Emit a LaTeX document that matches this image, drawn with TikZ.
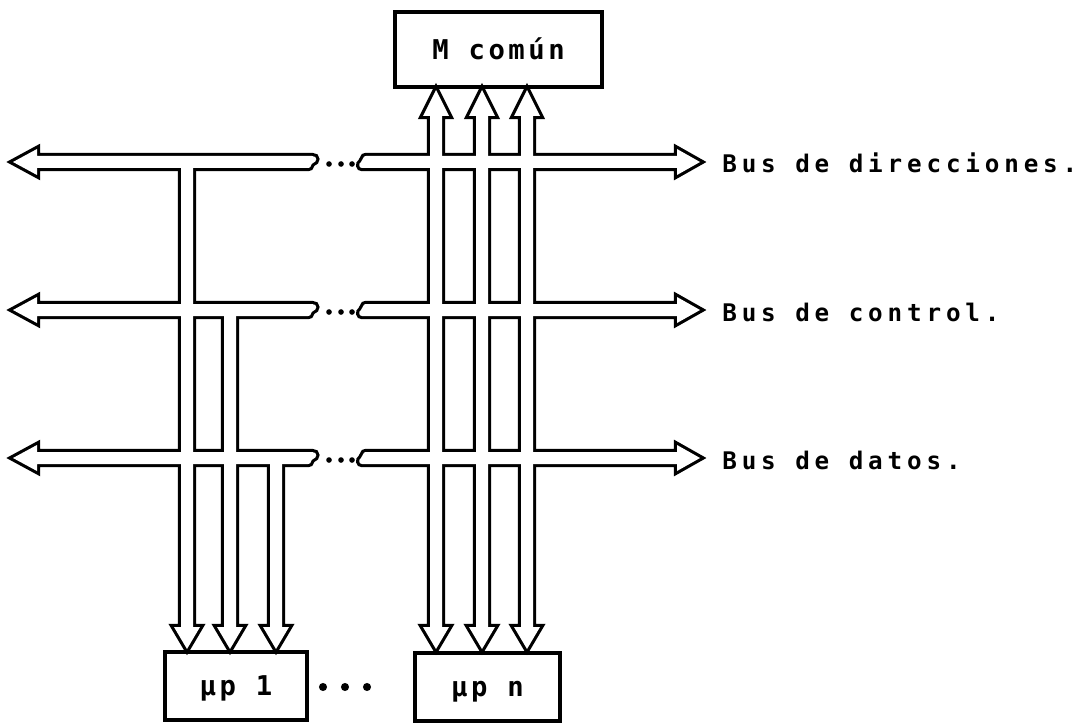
\documentclass[tikz,border=0pt]{standalone}
\usepackage{fontspec}
\newfontfamily\boxfont[LetterSpace=13]{DejaVu Sans Mono}
\newfontfamily\busfont[LetterSpace=20]{DejaVu Sans Mono}
\usetikzlibrary{positioning}

\tikzset{
	buswall/.style={draw=black, line width=3.6pt},
	busfill/.style={fill=white},
	unit/.style={draw, line width=1.8pt, inner sep=0pt, text height=11pt, text depth=0pt,
		font=\boxfont\bfseries\fontsize{15.5}{18}\selectfont},
	buslabel/.style={anchor=base west, inner sep=0pt,
		font=\busfont\bfseries\fontsize{13.8}{16}\selectfont}
}

\begin{document}
\begin{tikzpicture}[x=0.02cm, y=-0.02cm, line join=miter]
	\useasboundingbox (0,0) rectangle (1086,723);
	% black walls first, white inside after: the buses merge where they meet
	\foreach \st in {buswall, busfill} {
		\foreach \y in {162, 310, 458} {
			\path[\st] (13,\y) -- (37,\y-13) -- (37,\y-6) -- (312,\y-6)
				.. controls (318,\y-6) and (317,\y) .. (313,\y+1)
				.. controls (310,\y+2) and (312,\y+6) .. (308,\y+6)
				-- (37,\y+6) -- (37,\y+13) -- cycle;
			\path[\st] (366,\y-6) -- (677,\y-6) -- (677,\y-13) -- (700,\y)
				-- (677,\y+13) -- (677,\y+6) -- (362,\y+6)
				.. controls (359,\y+6) and (358,\y+2) .. (361,\y)
				.. controls (364,\y-2) and (362,\y-6) .. (366,\y-6) -- cycle;
		}
		\foreach \x/\y in {187/162, 230/310, 276/458}
			\path[\st] (\x-6,\y) -- (\x-6,627) -- (\x-13,627) -- (\x,649)
				-- (\x+13,627) -- (\x+6,627) -- (\x+6,\y) -- cycle;
		\foreach \x in {436, 482, 527}
			\path[\st] (\x,90) -- (\x+13,116) -- (\x+6,116) -- (\x+6,627)
				-- (\x+13,627) -- (\x,649) -- (\x-13,627) -- (\x-6,627)
				-- (\x-6,116) -- (\x-13,116) -- cycle;
	}
	\foreach \y in {162, 310, 458}
		\foreach \x in {329, 341, 352}
			\fill (\x,\y+2) circle (1.6pt);

	\node[unit, minimum width=4.14cm, minimum height=1.5cm] (mem) at (498.5,49.5) {M común};
	\node[unit, minimum width=2.84cm, minimum height=1.36cm] (up1) at (236,686) {µp 1};
	\node[unit, minimum width=2.9cm, minimum height=1.36cm] (upn) at (487.5,687) {µp n};
	\foreach \x in {323, 345, 367}
		\fill (\x,687) circle (2.3pt);

	\node[buslabel] (ldir) at (722,173) {Bus de direcciones.};
	\node[buslabel] (lctl) at (722,321) {Bus de control.};
	\node[buslabel] (ldat) at (722,469) {Bus de datos.};
\end{tikzpicture}
\end{document}
